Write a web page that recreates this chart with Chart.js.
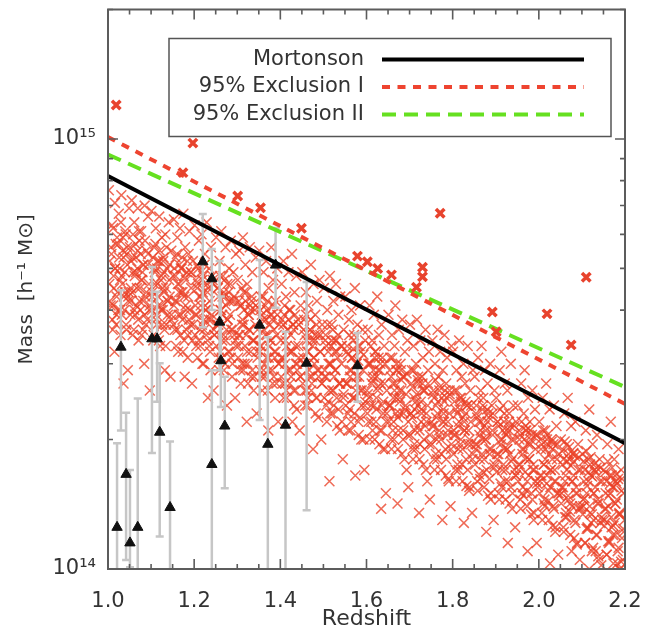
<!DOCTYPE html>
<html>
<head>
<meta charset="utf-8">
<script src="https://cdn.jsdelivr.net/npm/chart.js@4.4.1/dist/chart.umd.min.js"></script>
<style>
  body { margin: 0; background: #fff; }
  canvas { display: block; }
</style>
</head>
<body>
<canvas id="massChart" width="648" height="638"></canvas>
<script>
// masses are written in units of 1e14 h^-1 Msun
const MASS_UNIT = 1e14;

const xTicks = [1.0, 1.2, 1.4, 1.6, 1.8, 2.0, 2.2];
const yTicks = [1, 10];
const yTickLabels = ['10¹⁴', '10¹⁵'];

const lineZ = [1.0, 2.2];
const mortonsonM = [8.2, 1.96];
const exclusionIM = [10.1, 2.42];
const exclusionIIM = [9.2, 2.65];

// clusters above the exclusion curves (bold crosses)
const outlierZ = [1.019, 1.197, 1.174, 1.301, 1.354, 1.449, 1.579, 1.602, 1.626, 1.658, 1.730, 1.730, 1.716, 1.771, 1.892, 1.901, 2.019, 2.075, 2.110];
const outlierM = [12.0, 9.78, 8.35, 7.37, 6.92, 6.2, 5.34, 5.18, 5.0, 4.83, 5.03, 4.78, 4.52, 6.72, 3.96, 3.56, 3.92, 3.32, 4.77];

// observed clusters (triangles) with error bars
const triZ  = [1.030, 1.042, 1.021, 1.051, 1.069, 1.102, 1.114, 1.120, 1.144, 1.220, 1.241, 1.259, 1.262, 1.271, 1.241, 1.352, 1.371, 1.389, 1.412, 1.461, 1.579];
const triM  = [3.28, 1.66, 1.25, 1.15, 1.25, 3.43, 3.43, 2.08, 1.39, 5.18, 4.73, 3.75, 3.05, 2.15, 1.75, 3.69, 1.95, 5.09, 2.16, 3.01, 2.97];
const triLo = [2.10, 1.05, 0.5, 1.01, 0.5, 1.86, 2.45, 1.19, 0.5, 3.65, 4.00, 2.90, 2.38, 1.54, 0.5, 2.22, 0.5, 4.05, 0.5, 1.37, 2.45];
const triHi = [4.45, 2.31, 1.96, 1.70, 2.49, 5.04, 4.41, 3.01, 1.98, 6.69, 5.55, 5.20, 4.30, 2.80, 2.90, 5.23, 3.46, 6.21, 3.56, 4.65, 3.54];

// simulated halo catalogue, [redshift, mass] - whole spread
const cloudPoints = [
  [1.002,7.6],[1.004,5.2],[1.006,4.1],[1.009,6.3],[1.011,3.6],[1.013,4.8],[1.016,7.1],[1.018,5.7],[1.020,3.9],[1.022,4.4],[1.025,6.7],[1.027,5.0],[1.029,3.5],[1.031,7.4],[1.033,4.6],[1.035,5.9],[1.038,4.0],[1.040,6.1],[1.042,3.7],[1.044,5.4],[1.046,2.9],[1.047,4.3],[1.049,6.9],[1.015,3.2],[1.036,2.7],
  [1.051,5.6],[1.053,4.2],[1.055,7.2],[1.057,3.5],[1.059,4.9],[1.061,6.4],[1.063,3.9],[1.065,5.3],[1.067,4.5],[1.069,6.9],[1.071,3.4],[1.073,5.8],[1.075,4.0],[1.077,6.1],[1.079,4.7],[1.081,3.6],[1.083,5.1],[1.085,7.0],[1.087,4.3],[1.089,5.5],[1.091,3.8],[1.093,6.6],[1.095,4.6],[1.097,2.6],[1.084,3.0],
  [1.101,6.8],[1.103,4.4],[1.105,3.4],[1.107,5.6],[1.109,4.9],[1.111,6.2],[1.113,3.7],[1.115,5.2],[1.117,4.1],[1.119,6.6],[1.121,3.3],[1.123,4.7],[1.125,5.9],[1.127,4.0],[1.129,5.3],[1.131,3.6],[1.133,6.0],[1.135,4.5],[1.137,5.0],[1.139,3.9],[1.141,6.4],[1.143,4.3],[1.145,2.8],[1.147,5.5],[1.132,2.9],
  [1.151,4.8],[1.153,6.5],[1.155,3.6],[1.157,5.3],[1.159,4.2],[1.161,5.9],[1.163,3.2],[1.165,4.6],[1.167,6.2],[1.169,3.9],[1.171,5.0],[1.173,4.4],[1.175,6.7],[1.177,3.4],[1.179,5.6],[1.181,4.0],[1.183,4.9],[1.185,3.1],[1.187,5.4],[1.189,6.1],[1.191,3.7],[1.193,4.5],[1.195,2.7],[1.197,5.2],[1.178,2.8],
  [1.201,6.3],[1.203,4.1],[1.205,3.3],[1.207,5.1],[1.209,4.6],[1.211,5.8],[1.213,3.6],[1.215,4.3],[1.217,6.0],[1.219,3.0],[1.221,4.8],[1.223,3.8],[1.225,5.4],[1.227,4.0],[1.229,6.4],[1.231,3.4],[1.233,4.5],[1.235,5.0],[1.237,3.2],[1.239,5.6],[1.241,3.9],[1.243,4.7],[1.245,2.6],[1.247,3.5],[1.232,2.5],
  [1.251,5.9],[1.253,3.7],[1.255,4.5],[1.257,3.1],[1.259,5.2],[1.261,4.0],[1.263,6.1],[1.265,3.4],[1.267,4.8],[1.269,2.9],[1.271,4.3],[1.273,5.6],[1.275,3.6],[1.277,4.6],[1.279,3.2],[1.281,5.0],[1.283,3.9],[1.285,5.8],[1.287,4.2],[1.289,3.0],[1.291,4.9],[1.293,3.5],[1.295,2.5],[1.297,5.4],[1.276,2.4],
  [1.301,4.7],[1.303,3.3],[1.305,5.5],[1.307,2.9],[1.309,4.1],[1.311,3.7],[1.313,5.9],[1.315,4.4],[1.317,3.0],[1.319,5.1],[1.321,3.5],[1.323,4.6],[1.325,2.7],[1.327,3.9],[1.329,5.6],[1.331,3.2],[1.333,4.2],[1.335,4.9],[1.337,3.4],[1.339,2.8],[1.341,4.0],[1.343,5.3],[1.345,2.3],[1.347,3.6],[1.322,2.2],
  [1.351,5.5],[1.353,3.2],[1.355,4.3],[1.357,2.8],[1.359,3.8],[1.361,4.9],[1.363,3.0],[1.365,4.1],[1.367,5.2],[1.369,3.5],[1.371,2.6],[1.373,4.5],[1.375,3.3],[1.377,3.9],[1.379,5.6],[1.381,2.9],[1.383,4.7],[1.385,3.6],[1.387,3.1],[1.389,4.2],[1.391,2.7],[1.393,5.0],[1.395,2.2],[1.397,3.7],[1.372,2.1],
  [1.401,3.4],[1.403,4.6],[1.405,2.7],[1.407,5.2],[1.409,3.9],[1.411,3.0],[1.413,4.3],[1.415,2.5],[1.417,3.6],[1.419,4.9],[1.421,3.2],[1.423,4.0],[1.425,2.8],[1.427,5.4],[1.429,3.7],[1.431,2.6],[1.433,4.4],[1.435,3.3],[1.437,4.8],[1.439,2.9],[1.441,3.8],[1.443,3.1],[1.445,2.1],[1.447,4.1],[1.428,2.2],
  [1.451,4.9],[1.453,3.1],[1.455,3.8],[1.457,2.6],[1.459,4.4],[1.461,3.4],[1.463,2.4],[1.465,4.1],[1.467,2.9],[1.469,3.6],[1.471,5.1],[1.473,2.7],[1.475,3.3],[1.477,4.6],[1.479,3.0],[1.481,3.9],[1.483,2.5],[1.485,4.2],[1.487,3.5],[1.489,2.8],[1.491,4.7],[1.493,3.2],[1.495,2.0],[1.497,3.7],[1.476,1.9],
  [1.501,4.5],[1.503,2.9],[1.505,3.5],[1.507,2.4],[1.509,4.0],[1.511,3.2],[1.513,2.6],[1.515,4.8],[1.517,3.0],[1.519,3.7],[1.521,2.3],[1.523,4.2],[1.525,2.8],[1.527,3.4],[1.529,4.6],[1.531,2.5],[1.533,3.1],[1.535,3.9],[1.537,2.7],[1.539,4.3],[1.541,3.3],[1.543,2.2],[1.545,1.8],[1.547,3.6],[1.514,1.6],
  [1.551,4.3],[1.553,2.7],[1.555,3.3],[1.557,2.3],[1.559,3.8],[1.561,2.9],[1.563,2.1],[1.565,4.0],[1.567,3.1],[1.569,2.5],[1.571,3.5],[1.573,4.5],[1.575,2.6],[1.577,3.0],[1.579,3.7],[1.581,2.2],[1.583,2.8],[1.585,4.1],[1.587,3.2],[1.589,2.4],[1.591,3.6],[1.593,2.0],[1.595,1.7],[1.597,3.4],[1.574,1.65],
  [1.601,2.6],[1.603,3.6],[1.605,2.2],[1.607,4.1],[1.609,3.0],[1.611,2.4],[1.613,3.4],[1.615,2.8],[1.617,3.9],[1.619,2.0],[1.621,3.2],[1.623,2.5],[1.625,4.3],[1.627,2.9],[1.629,3.5],[1.631,2.1],[1.633,2.7],[1.635,3.7],[1.637,3.1],[1.639,2.3],[1.641,3.3],[1.643,1.9],[1.645,1.5],[1.647,2.6],[1.634,1.38],
  [1.651,3.9],[1.653,2.4],[1.655,3.1],[1.657,2.0],[1.659,3.5],[1.661,2.7],[1.663,2.2],[1.665,3.3],[1.667,4.1],[1.669,2.5],[1.671,2.9],[1.673,1.9],[1.675,3.6],[1.677,2.3],[1.679,3.0],[1.681,2.6],[1.683,3.8],[1.685,2.1],[1.687,2.8],[1.689,3.2],[1.691,2.4],[1.693,1.7],[1.695,3.4],[1.697,1.55],[1.672,1.42],
  [1.701,3.7],[1.703,2.3],[1.705,2.9],[1.707,1.9],[1.709,3.3],[1.711,2.5],[1.713,2.1],[1.715,3.0],[1.717,3.8],[1.719,2.4],[1.721,2.7],[1.723,1.8],[1.725,3.4],[1.727,2.2],[1.729,2.8],[1.731,3.1],[1.733,2.0],[1.735,2.6],[1.737,3.6],[1.739,2.3],[1.741,1.6],[1.743,2.9],[1.745,3.2],[1.747,1.45],[1.722,1.35],
  [1.751,2.2],[1.753,3.4],[1.755,2.6],[1.757,1.8],[1.759,3.0],[1.761,2.4],[1.763,2.0],[1.765,3.6],[1.767,2.8],[1.769,2.1],[1.771,3.2],[1.773,1.7],[1.775,2.5],[1.777,2.9],[1.779,2.3],[1.781,3.5],[1.783,1.9],[1.785,2.7],[1.787,3.1],[1.789,2.2],[1.791,1.6],[1.793,2.6],[1.795,1.4],[1.797,3.3],[1.776,1.3],
  [1.801,3.2],[1.803,2.1],[1.805,2.6],[1.807,1.7],[1.809,2.9],[1.811,2.3],[1.813,1.9],[1.815,3.4],[1.817,2.5],[1.819,2.0],[1.821,2.8],[1.823,1.6],[1.825,3.0],[1.827,2.2],[1.829,2.7],[1.831,1.8],[1.833,2.4],[1.835,3.3],[1.837,2.1],[1.839,1.55],[1.841,2.6],[1.843,1.95],[1.845,1.35],[1.847,2.9],[1.826,1.28],
  [1.851,2.8],[1.853,1.9],[1.855,2.4],[1.857,1.6],[1.859,3.1],[1.861,2.2],[1.863,1.8],[1.865,2.6],[1.867,3.3],[1.869,2.0],[1.871,2.5],[1.873,1.55],[1.875,2.9],[1.877,2.1],[1.879,1.7],[1.881,2.7],[1.883,2.3],[1.885,1.9],[1.887,3.0],[1.889,1.5],[1.891,2.4],[1.893,2.05],[1.895,1.3],[1.897,2.6],[1.878,1.22],
  [1.901,2.5],[1.903,1.8],[1.905,2.2],[1.907,1.5],[1.909,2.9],[1.911,2.0],[1.913,3.2],[1.915,1.7],[1.917,2.4],[1.919,1.9],[1.921,2.7],[1.923,1.45],[1.925,2.1],[1.927,2.6],[1.929,1.6],[1.931,2.3],[1.933,1.85],[1.935,3.0],[1.937,2.0],[1.939,1.5],[1.941,2.4],[1.943,1.7],[1.945,1.25],[1.947,2.2],[1.928,1.15],
  [1.951,2.4],[1.953,1.7],[1.955,2.0],[1.957,1.45],[1.959,2.7],[1.961,1.9],[1.963,1.55],[1.965,2.3],[1.967,2.9],[1.969,1.8],[1.971,2.1],[1.973,1.4],[1.975,2.5],[1.977,1.65],[1.979,2.2],[1.981,1.95],[1.983,1.5],[1.985,2.6],[1.987,1.75],[1.989,1.35],[1.991,2.35],[1.993,1.6],[1.995,1.15],[1.997,2.05],[1.974,1.1],
  [2.001,2.2],[2.003,1.6],[2.005,1.9],[2.007,1.35],[2.009,2.5],[2.011,1.75],[2.013,1.45],[2.015,2.1],[2.017,2.7],[2.019,1.65],[2.021,1.95],[2.023,1.3],[2.025,2.35],[2.027,1.55],[2.029,2.0],[2.031,1.8],[2.033,1.4],[2.035,2.4],[2.037,1.7],[2.039,1.25],[2.041,2.15],[2.043,1.5],[2.045,1.08],[2.047,1.85],[2.026,1.03],
  [2.051,2.0],[2.053,1.5],[2.055,1.75],[2.057,1.25],[2.059,2.3],[2.061,1.6],[2.063,1.35],[2.065,1.95],[2.067,2.5],[2.069,1.45],[2.071,1.8],[2.073,1.2],[2.075,2.15],[2.077,1.4],[2.079,1.85],[2.081,1.65],[2.083,1.3],[2.085,2.2],[2.087,1.55],[2.089,1.15],[2.091,1.95],[2.093,1.38],[2.095,1.05],[2.097,1.7],[2.076,1.1],
  [2.101,1.85],[2.103,1.4],[2.105,1.6],[2.107,1.15],[2.109,2.1],[2.111,1.5],[2.113,1.25],[2.115,1.8],[2.117,2.35],[2.119,1.35],[2.121,1.65],[2.123,1.1],[2.125,1.95],[2.127,1.3],[2.129,1.7],[2.131,1.55],[2.133,1.2],[2.135,2.05],[2.137,1.45],[2.139,1.05],[2.141,1.8],[2.143,1.28],[2.145,1.02],[2.147,1.6],[2.126,1.12],
  [2.151,1.7],[2.153,1.3],[2.155,1.5],[2.157,1.08],[2.159,1.95],[2.161,1.4],[2.163,1.15],[2.165,1.65],[2.167,2.2],[2.169,1.25],[2.171,1.55],[2.173,1.03],[2.175,1.8],[2.177,1.2],[2.179,1.6],[2.181,1.45],[2.183,1.1],[2.185,1.9],[2.187,1.35],[2.189,1.0],[2.191,1.7],[2.193,1.18],[2.195,1.05],[2.197,1.5],[2.176,1.28]
];

// the dense core of the same catalogue
const cloudCorePoints = [
  [1.004,4.2],[1.007,5.6],[1.010,3.8],[1.012,6.2],[1.014,4.5],[1.017,5.0],[1.019,3.7],[1.021,5.9],[1.024,4.0],[1.026,5.3],[1.028,4.7],[1.030,6.4],[1.032,3.9],[1.034,5.5],[1.037,4.3],[1.039,4.9],[1.041,6.0],[1.043,3.6],[1.045,5.1],[1.048,4.4],
  [1.052,3.9],[1.054,5.2],[1.056,4.4],[1.058,6.0],[1.060,3.6],[1.062,4.8],[1.064,5.7],[1.066,4.1],[1.068,5.0],[1.070,3.8],[1.072,6.1],[1.074,4.5],[1.076,5.4],[1.078,3.5],[1.080,4.9],[1.082,4.2],[1.086,5.8],[1.088,3.7],[1.092,5.1],[1.096,4.0],
  [1.102,4.0],[1.104,5.3],[1.106,3.5],[1.108,4.6],[1.110,5.7],[1.112,3.9],[1.114,5.0],[1.116,4.3],[1.118,3.4],[1.120,5.5],[1.122,4.1],[1.124,4.8],[1.126,3.7],[1.128,5.2],[1.130,4.4],[1.134,3.3],[1.136,5.6],[1.138,4.2],[1.142,4.7],[1.146,3.8],
  [1.152,3.7],[1.154,5.0],[1.156,4.2],[1.158,3.3],[1.160,5.4],[1.162,4.6],[1.164,3.9],[1.166,5.1],[1.168,3.5],[1.170,4.4],[1.172,5.3],[1.174,3.2],[1.176,4.8],[1.180,4.1],[1.182,3.6],[1.184,5.2],[1.186,4.3],[1.188,3.8],[1.192,4.9],[1.196,3.4],
  [1.202,3.5],[1.204,4.7],[1.206,3.9],[1.208,3.1],[1.210,5.0],[1.212,4.3],[1.214,3.3],[1.216,4.9],[1.218,3.7],[1.220,4.4],[1.222,3.0],[1.224,5.1],[1.226,4.1],[1.228,3.5],[1.230,4.6],[1.234,3.8],[1.236,4.2],[1.238,2.9],[1.242,4.8],[1.246,3.6],
  [1.252,3.3],[1.254,4.5],[1.256,3.7],[1.258,2.9],[1.260,4.8],[1.262,4.0],[1.264,3.1],[1.266,4.3],[1.268,3.5],[1.270,4.7],[1.272,3.0],[1.274,4.1],[1.278,3.8],[1.280,4.4],[1.282,3.2],[1.284,4.6],[1.286,3.6],[1.288,2.8],[1.292,4.2],[1.296,3.4],
  [1.302,3.1],[1.304,4.2],[1.306,3.5],[1.308,2.7],[1.310,4.5],[1.312,3.8],[1.314,2.9],[1.316,4.0],[1.318,3.3],[1.320,4.4],[1.324,3.0],[1.326,3.9],[1.328,3.6],[1.330,4.1],[1.332,2.8],[1.334,4.3],[1.336,3.4],[1.338,2.6],[1.342,3.7],[1.346,3.2],
  [1.352,2.9],[1.354,4.0],[1.356,3.3],[1.358,2.6],[1.360,4.3],[1.362,3.6],[1.364,2.8],[1.366,3.8],[1.368,3.1],[1.370,4.2],[1.374,2.9],[1.376,3.7],[1.378,3.4],[1.380,3.9],[1.382,2.7],[1.384,4.1],[1.386,3.2],[1.388,2.5],[1.392,3.5],[1.396,3.0],
  [1.402,2.8],[1.404,3.8],[1.406,3.1],[1.408,2.5],[1.410,4.1],[1.412,3.4],[1.414,2.6],[1.416,3.6],[1.418,2.9],[1.420,4.0],[1.422,2.7],[1.424,3.5],[1.426,3.2],[1.430,3.7],[1.432,2.4],[1.434,3.9],[1.436,3.0],[1.438,2.35],[1.442,3.3],[1.446,2.8],
  [1.452,2.7],[1.454,3.6],[1.456,3.0],[1.458,2.4],[1.460,3.9],[1.462,3.2],[1.464,2.5],[1.466,3.5],[1.468,2.8],[1.470,3.8],[1.472,2.6],[1.474,3.4],[1.478,3.1],[1.480,3.5],[1.482,2.3],[1.484,3.7],[1.486,2.9],[1.488,2.25],[1.492,3.2],[1.496,2.7],
  [1.502,2.5],[1.504,3.4],[1.506,2.8],[1.508,2.2],[1.510,3.7],[1.512,3.0],[1.516,2.3],[1.518,3.3],[1.520,2.6],[1.522,3.6],[1.524,2.4],[1.526,3.2],[1.528,2.9],[1.530,3.4],[1.532,2.15],[1.534,3.5],[1.536,2.7],[1.538,2.1],[1.542,3.0],[1.546,2.5],
  [1.552,2.4],[1.554,3.2],[1.556,2.7],[1.558,2.1],[1.560,3.5],[1.562,2.8],[1.564,2.2],[1.566,3.1],[1.568,2.5],[1.570,3.4],[1.572,2.3],[1.576,3.0],[1.578,2.7],[1.580,3.3],[1.582,2.05],[1.584,3.3],[1.586,2.6],[1.588,2.0],[1.592,2.9],[1.596,2.4],
  [1.602,2.3],[1.604,3.0],[1.606,2.5],[1.608,2.0],[1.610,3.3],[1.612,2.7],[1.614,2.1],[1.616,2.9],[1.618,2.4],[1.620,3.2],[1.622,2.2],[1.624,2.8],[1.626,2.6],[1.628,3.1],[1.630,1.95],[1.632,3.0],[1.636,2.4],[1.638,1.9],[1.642,2.7],[1.646,2.2],
  [1.652,2.2],[1.654,2.9],[1.656,2.4],[1.658,1.9],[1.660,3.1],[1.662,2.5],[1.664,2.0],[1.666,2.7],[1.668,2.3],[1.670,3.0],[1.674,2.1],[1.676,2.6],[1.678,2.45],[1.680,2.9],[1.682,1.85],[1.684,2.8],[1.686,2.3],[1.688,1.8],[1.692,2.55],[1.696,2.05],
  [1.702,2.05],[1.704,2.7],[1.706,2.25],[1.708,1.8],[1.710,2.9],[1.712,2.35],[1.714,1.9],[1.716,2.55],[1.718,2.15],[1.720,2.8],[1.724,1.95],[1.726,2.45],[1.728,2.3],[1.730,2.7],[1.732,1.75],[1.734,2.6],[1.736,2.15],[1.738,1.7],[1.742,2.4],[1.746,1.95],
  [1.752,1.95],[1.754,2.55],[1.756,2.15],[1.758,1.7],[1.760,2.75],[1.762,2.25],[1.764,1.8],[1.766,2.45],[1.768,2.05],[1.770,2.65],[1.774,1.85],[1.778,2.35],[1.780,2.2],[1.782,2.6],[1.784,1.65],[1.786,2.5],[1.788,2.05],[1.790,1.62],[1.792,2.3],[1.796,1.9],
  [1.802,1.85],[1.804,2.45],[1.806,2.05],[1.808,1.6],[1.810,2.6],[1.812,2.15],[1.814,1.7],[1.816,2.35],[1.818,1.95],[1.820,2.5],[1.822,1.75],[1.824,2.25],[1.828,2.1],[1.830,2.45],[1.832,1.56],[1.834,2.4],[1.836,1.95],[1.838,1.52],[1.842,2.2],[1.846,1.8],
  [1.852,1.75],[1.854,2.3],[1.856,1.95],[1.858,1.52],[1.860,2.5],[1.862,2.05],[1.864,1.62],[1.866,2.2],[1.868,1.85],[1.870,2.4],[1.872,1.68],[1.874,2.15],[1.876,2.0],[1.880,2.35],[1.882,1.48],[1.884,2.25],[1.886,1.85],[1.888,1.45],[1.892,2.1],[1.896,1.72],
  [1.902,1.68],[1.904,2.2],[1.906,1.85],[1.908,1.45],[1.910,2.35],[1.912,1.95],[1.914,1.55],[1.916,2.1],[1.918,1.75],[1.920,2.3],[1.922,1.6],[1.924,2.05],[1.926,1.9],[1.930,2.2],[1.932,1.42],[1.934,2.15],[1.936,1.78],[1.938,1.38],[1.942,2.0],[1.946,1.65],
  [1.952,1.6],[1.954,2.1],[1.956,1.75],[1.958,1.38],[1.960,2.2],[1.962,1.85],[1.964,1.48],[1.966,2.0],[1.968,1.68],[1.970,2.15],[1.972,1.52],[1.976,1.95],[1.978,1.8],[1.980,2.1],[1.982,1.34],[1.984,2.05],[1.986,1.7],[1.988,1.3],[1.992,1.9],[1.996,1.58],
  [2.002,1.5],[2.004,2.0],[2.006,1.65],[2.008,1.3],[2.010,2.1],[2.012,1.75],[2.014,1.4],[2.016,1.9],[2.018,1.58],[2.020,2.05],[2.022,1.44],[2.024,1.85],[2.028,1.7],[2.030,1.98],[2.032,1.26],[2.034,1.95],[2.036,1.6],[2.038,1.22],[2.042,1.8],[2.046,1.5],
  [2.052,1.42],[2.054,1.88],[2.056,1.55],[2.058,1.22],[2.060,1.98],[2.062,1.65],[2.064,1.32],[2.066,1.78],[2.068,1.48],[2.070,1.92],[2.072,1.36],[2.074,1.74],[2.078,1.6],[2.080,1.86],[2.082,1.18],[2.084,1.83],[2.086,1.5],[2.088,1.14],[2.092,1.7],[2.096,1.4],
  [2.102,1.34],[2.104,1.78],[2.106,1.46],[2.108,1.15],[2.110,1.88],[2.112,1.56],[2.114,1.24],[2.116,1.68],[2.118,1.4],[2.120,1.82],[2.122,1.28],[2.124,1.64],[2.128,1.5],[2.130,1.76],[2.132,1.1],[2.134,1.72],[2.136,1.42],[2.138,1.07],[2.142,1.6],[2.146,1.32],
  [2.152,1.26],[2.154,1.68],[2.156,1.38],[2.158,1.08],[2.160,1.78],[2.162,1.48],[2.164,1.16],[2.166,1.58],[2.168,1.32],[2.170,1.72],[2.172,1.2],[2.174,1.55],[2.178,1.42],[2.180,1.66],[2.182,1.03],[2.184,1.62],[2.186,1.34],[2.188,1.0],[2.192,1.52],[2.196,1.24]
];

// the most crowded part of the band
const cloudDensePoints = [
  [1.003,4.6],[1.008,5.4],[1.012,4.1],[1.016,5.0],[1.020,4.3],[1.024,5.7],[1.028,4.0],[1.032,4.8],[1.036,5.3],[1.040,4.4],[1.044,5.6],[1.047,4.2],
  [1.053,4.5],[1.057,5.3],[1.061,4.0],[1.065,4.9],[1.069,5.5],[1.073,4.2],[1.077,4.7],[1.081,5.1],[1.085,3.9],[1.089,4.4],[1.093,5.4],[1.097,4.1],
  [1.103,4.3],[1.107,5.0],[1.111,3.8],[1.115,4.6],[1.119,5.2],[1.123,4.0],[1.127,4.5],[1.131,4.9],[1.135,3.7],[1.139,4.2],[1.143,5.1],[1.147,3.9],
  [1.153,4.1],[1.157,4.8],[1.161,3.6],[1.165,4.4],[1.169,5.0],[1.173,3.8],[1.177,4.3],[1.181,4.7],[1.185,3.5],[1.189,4.0],[1.193,4.9],[1.197,3.7],
  [1.203,3.9],[1.207,4.5],[1.211,3.4],[1.215,4.1],[1.219,4.7],[1.223,3.6],[1.227,4.0],[1.231,4.4],[1.235,3.3],[1.239,3.8],[1.243,4.6],[1.247,3.5],
  [1.253,3.7],[1.257,4.3],[1.261,3.2],[1.265,3.9],[1.269,4.4],[1.273,3.4],[1.277,3.8],[1.281,4.2],[1.285,3.1],[1.289,3.6],[1.293,4.3],[1.297,3.3],
  [1.303,3.5],[1.307,4.1],[1.311,3.0],[1.315,3.7],[1.319,4.2],[1.323,3.2],[1.327,3.6],[1.331,4.0],[1.335,2.9],[1.339,3.4],[1.343,4.1],[1.347,3.1],
  [1.353,3.3],[1.357,3.9],[1.361,2.9],[1.365,3.5],[1.369,4.0],[1.373,3.1],[1.377,3.4],[1.381,3.8],[1.385,2.8],[1.389,3.2],[1.393,3.9],[1.397,3.0],
  [1.403,3.1],[1.407,3.7],[1.411,2.7],[1.415,3.3],[1.419,3.8],[1.423,2.9],[1.427,3.2],[1.431,3.6],[1.435,2.6],[1.439,3.0],[1.443,3.7],[1.447,2.8],
  [1.453,3.0],[1.457,3.5],[1.461,2.6],[1.465,3.2],[1.469,3.6],[1.473,2.8],[1.477,3.1],[1.481,3.4],[1.485,2.5],[1.489,2.9],[1.493,3.5],[1.497,2.7],
  [1.503,2.8],[1.507,3.3],[1.511,2.45],[1.515,3.0],[1.519,3.4],[1.523,2.6],[1.527,2.9],[1.531,3.2],[1.535,2.35],[1.539,2.7],[1.543,3.3],[1.547,2.55],
  [1.553,2.7],[1.557,3.15],[1.561,2.35],[1.565,2.9],[1.569,3.25],[1.573,2.5],[1.577,2.8],[1.581,3.05],[1.585,2.25],[1.589,2.6],[1.593,3.15],[1.597,2.45],
  [1.603,2.55],[1.607,3.0],[1.611,2.2],[1.615,2.75],[1.619,3.1],[1.623,2.35],[1.627,2.65],[1.631,2.9],[1.635,2.1],[1.639,2.45],[1.643,3.0],[1.647,2.3],
  [1.653,2.4],[1.657,2.8],[1.661,2.1],[1.665,2.6],[1.669,2.9],[1.673,2.25],[1.677,2.5],[1.681,2.75],[1.685,2.0],[1.689,2.35],[1.693,2.85],[1.697,2.2],
  [1.703,2.3],[1.707,2.65],[1.711,1.95],[1.715,2.45],[1.719,2.75],[1.723,2.1],[1.727,2.35],[1.731,2.6],[1.735,1.9],[1.739,2.2],[1.743,2.7],[1.747,2.05],
  [1.753,2.15],[1.757,2.5],[1.761,1.85],[1.765,2.3],[1.769,2.6],[1.773,2.0],[1.777,2.2],[1.781,2.45],[1.785,1.8],[1.789,2.1],[1.793,2.55],[1.797,1.95],
  [1.803,2.05],[1.807,2.35],[1.811,1.75],[1.815,2.2],[1.819,2.45],[1.823,1.9],[1.827,2.1],[1.831,2.3],[1.835,1.7],[1.839,2.0],[1.843,2.4],[1.847,1.85],
  [1.853,1.95],[1.857,2.25],[1.861,1.66],[1.865,2.1],[1.869,2.35],[1.873,1.8],[1.877,2.0],[1.881,2.2],[1.885,1.62],[1.889,1.9],[1.893,2.3],[1.897,1.75],
  [1.903,1.85],[1.907,2.15],[1.911,1.58],[1.915,2.0],[1.919,2.2],[1.923,1.7],[1.927,1.9],[1.931,2.1],[1.935,1.55],[1.939,1.8],[1.943,2.15],[1.947,1.65],
  [1.953,1.75],[1.957,2.05],[1.961,1.5],[1.965,1.9],[1.969,2.1],[1.973,1.6],[1.977,1.8],[1.981,2.0],[1.985,1.45],[1.989,1.7],[1.993,2.05],[1.997,1.55],
  [2.003,1.65],[2.007,1.95],[2.011,1.42],[2.015,1.8],[2.019,2.0],[2.023,1.52],[2.027,1.7],[2.031,1.9],[2.035,1.38],[2.039,1.6],[2.043,1.95],[2.047,1.48],
  [2.053,1.55],[2.057,1.8],[2.061,1.32],[2.065,1.7],[2.069,1.85],[2.073,1.42],[2.077,1.6],[2.081,1.78],[2.085,1.28],[2.089,1.5],[2.093,1.82],[2.097,1.38],
  [2.103,1.45],[2.107,1.7],[2.111,1.24],[2.115,1.6],[2.119,1.75],[2.123,1.34],[2.127,1.5],[2.131,1.68],[2.135,1.2],[2.139,1.42],[2.143,1.72],[2.147,1.3],
  [2.153,1.38],[2.157,1.6],[2.161,1.16],[2.165,1.5],[2.169,1.65],[2.173,1.26],[2.177,1.42],[2.181,1.58],[2.185,1.12],[2.189,1.34],[2.193,1.62],[2.197,1.22],
  [2.117,1.0],[2.163,0.98],[2.191,1.04],[2.199,1.3]
];

const legendOrder = ['Mortonson', '95% Exclusion I', '95% Exclusion II'];

const TEXT_FONT = "'DejaVu Sans', sans-serif";
const TEXT_COLOR = '#333';
const CLOUD_RED = 'rgba(234, 64, 38, 0.78)';

function toXY(zs, ms) {
  return zs.map((z, i) => ({ x: z, y: ms[i] * MASS_UNIT }));
}

function pairsToXY(pairs) {
  return pairs.map(p => ({ x: p[0], y: p[1] * MASS_UNIT }));
}

// grey error bars, drawn just above the simulated cloud
function drawErrorBars(chart) {
  const { ctx, chartArea: a, scales: { x, y } } = chart;
  ctx.save();
  ctx.beginPath();
  ctx.rect(a.left, a.top, a.right - a.left, a.bottom - a.top);
  ctx.clip();
  ctx.strokeStyle = '#c6c6c6';
  ctx.lineWidth = 2.5;
  triZ.forEach((z, i) => {
    const px = x.getPixelForValue(z);
    const top = y.getPixelForValue(triHi[i] * MASS_UNIT);
    const bot = y.getPixelForValue(triLo[i] * MASS_UNIT);
    ctx.beginPath();
    ctx.moveTo(px, top); ctx.lineTo(px, bot);
    ctx.moveTo(px - 4, top); ctx.lineTo(px + 4, top);
    ctx.moveTo(px - 4, bot); ctx.lineTo(px + 4, bot);
    ctx.stroke();
  });
  ctx.restore();
}

const frameTicks = {
  id: 'frameTicks',
  afterDatasetDraw(chart, args) {
    // datasets 0-2 are the cloud, drawn from 2 down to 0
    if (args.index === 0) drawErrorBars(chart);
  },
  afterDraw(chart) {
    const { ctx, chartArea: a, scales: { x, y } } = chart;
    ctx.save();
    ctx.strokeStyle = '#5c5c5c';
    ctx.lineWidth = 2;
    ctx.strokeRect(a.left, a.top, a.right - a.left, a.bottom - a.top);

    ctx.lineWidth = 1.6;
    ctx.beginPath();
    for (let k = 0; k <= 24; k++) {
      const px = x.getPixelForValue(xTicks[0] + k * 0.05);
      const len = k % 4 === 0 ? 10 : 5;
      ctx.moveTo(px, a.bottom); ctx.lineTo(px, a.bottom - len);
      ctx.moveTo(px, a.top); ctx.lineTo(px, a.top + len);
    }
    yTicks.forEach(decade => {
      for (let k = 1; k <= 9; k++) {
        const v = k * decade * MASS_UNIT;
        if (v > y.max * 1.001) break;
        const py = y.getPixelForValue(v);
        const len = k === 1 ? 10 : 5;
        ctx.moveTo(a.left, py); ctx.lineTo(a.left + len, py);
        ctx.moveTo(a.right, py); ctx.lineTo(a.right - len, py);
      }
    });
    ctx.stroke();
    ctx.restore();
  }
};

const boxLegend = {
  id: 'boxLegend',
  afterDraw(chart) {
    const { ctx, chartArea: a } = chart;
    const left = a.left + 61, top = a.top + 29, right = a.right - 14, bottom = a.top + 127;
    ctx.save();
    ctx.strokeStyle = '#555';
    ctx.lineWidth = 1.5;
    ctx.strokeRect(left, top, right - left, bottom - top);
    ctx.font = '21px ' + TEXT_FONT;
    ctx.fillStyle = TEXT_COLOR;
    ctx.textAlign = 'right';
    ctx.textBaseline = 'middle';
    legendOrder.forEach((name, i) => {
      const d = chart.data.datasets.find(ds => ds.label === name);
      const rowY = top + 21 + i * 27.5;
      ctx.fillText(d.label, left + 195, rowY);
      ctx.strokeStyle = d.borderColor;
      ctx.lineWidth = d.borderWidth;
      ctx.setLineDash(d.borderDash || []);
      ctx.beginPath();
      ctx.moveTo(left + 213, rowY);
      ctx.lineTo(left + 415, rowY);
      ctx.stroke();
    });
    ctx.restore();
  }
};

const cloudStyle = {
  pointStyle: 'crossRot',
  pointRadius: 7,
  borderWidth: 1.5,
  borderColor: CLOUD_RED,
  backgroundColor: CLOUD_RED,
  clip: 0
};

new Chart(document.getElementById('massChart'), {
  type: 'scatter',
  data: {
    datasets: [
      Object.assign({ label: 'Simulated haloes (dense)', data: pairsToXY(cloudDensePoints), order: 10 }, cloudStyle),
      Object.assign({ label: 'Simulated haloes (core)', data: pairsToXY(cloudCorePoints), order: 11 }, cloudStyle),
      Object.assign({ label: 'Simulated haloes', data: pairsToXY(cloudPoints), order: 12 }, cloudStyle),
      {
        label: 'Observed clusters',
        data: toXY(triZ, triM),
        pointStyle: 'triangle',
        pointRadius: 6,
        borderWidth: 1,
        borderColor: '#111',
        backgroundColor: '#111',
        order: 5,
        clip: 0
      },
      {
        label: '95% Exclusion II',
        data: toXY(lineZ, exclusionIIM),
        showLine: true,
        pointRadius: 0,
        borderColor: '#66e020',
        borderWidth: 4,
        borderDash: [14, 8],
        order: 3,
        clip: 0
      },
      {
        label: '95% Exclusion I',
        data: toXY(lineZ, exclusionIM),
        showLine: true,
        pointRadius: 0,
        borderColor: '#ee4430',
        borderWidth: 4,
        borderDash: [8, 7.5],
        order: 2,
        clip: 0
      },
      {
        label: 'Mortonson',
        data: toXY(lineZ, mortonsonM),
        showLine: true,
        pointRadius: 0,
        borderColor: '#000',
        borderWidth: 4,
        order: 1,
        clip: 0
      },
      {
        label: 'Excluded clusters',
        data: toXY(outlierZ, outlierM),
        pointStyle: 'crossRot',
        pointRadius: 6,
        borderWidth: 3.5,
        borderColor: '#e8432d',
        backgroundColor: '#e8432d',
        order: 0,
        clip: 0
      }
    ]
  },
  options: {
    responsive: false,
    animation: false,
    devicePixelRatio: 1,
    layout: { padding: { left: 0, top: 9, right: 23, bottom: 0 } },
    plugins: {
      legend: { display: false },
      tooltip: { enabled: false }
    },
    scales: {
      x: {
        type: 'linear',
        min: xTicks[0],
        max: xTicks[xTicks.length - 1],
        grid: { display: false },
        border: { display: false },
        afterBuildTicks: scale => { scale.ticks = xTicks.map(v => ({ value: v })); },
        afterFit: scale => { scale.height = 69; scale.paddingLeft = 0; scale.paddingRight = 0; },
        ticks: {
          callback: v => v.toFixed(1),
          color: TEXT_COLOR,
          font: { family: TEXT_FONT, size: 21 },
          padding: 12,
          maxRotation: 0
        },
        title: {
          display: true,
          text: 'Redshift',
          color: TEXT_COLOR,
          font: { family: TEXT_FONT, size: 22 },
          padding: { top: 0, bottom: 6 }
        }
      },
      y: {
        type: 'logarithmic',
        min: 1 * MASS_UNIT,
        max: 20 * MASS_UNIT,
        grid: { display: false },
        border: { display: false },
        afterBuildTicks: scale => { scale.ticks = yTicks.map(v => ({ value: v * MASS_UNIT })); },
        afterFit: scale => { scale.width = 108; scale.paddingTop = 0; scale.paddingBottom = 0; },
        ticks: {
          callback: v => yTickLabels[yTicks.indexOf(Math.round(v / MASS_UNIT))] || '',
          color: TEXT_COLOR,
          font: { family: TEXT_FONT, size: 21 },
          padding: 4
        },
        title: {
          display: true,
          text: 'Mass  [h⁻¹ M⊙]',
          color: TEXT_COLOR,
          font: { family: TEXT_FONT, size: 20 },
          padding: { top: 15, bottom: 0 }
        }
      }
    }
  },
  plugins: [frameTicks, boxLegend]
});
</script>
</body>
</html>
